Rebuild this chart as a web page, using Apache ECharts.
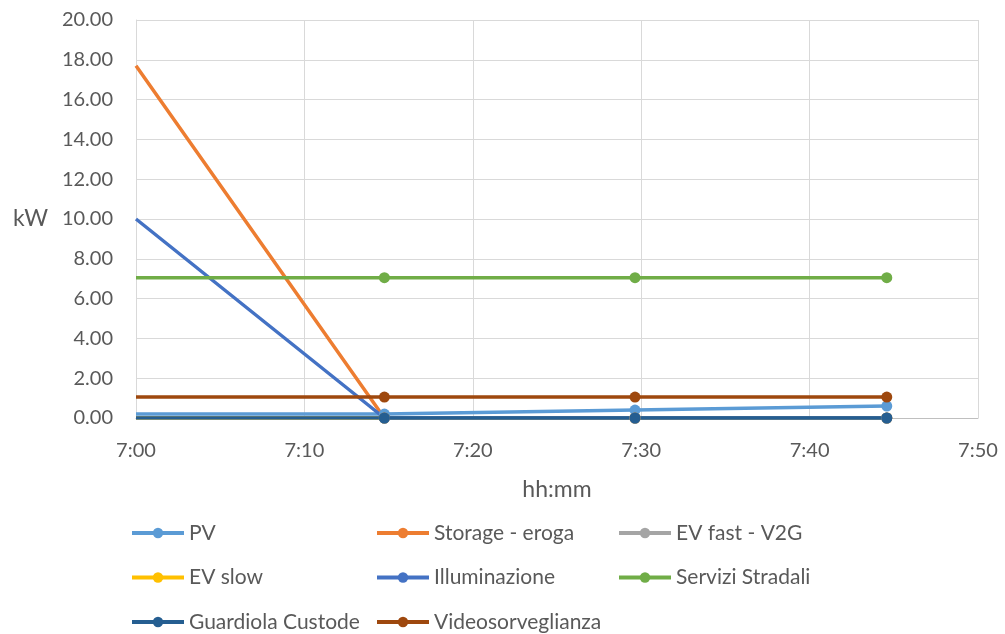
<!DOCTYPE html>
<html>
<head>
<meta charset="utf-8">
<script src="https://cdn.jsdelivr.net/npm/echarts@6/dist/echarts.min.js"></script>
<style>html,body{margin:0;padding:0;background:#fff}#c{width:1005px;height:634px}</style>
</head>
<body>
<div id="c"></div>
<script>
var times = ['7:00:00', '7:14:45', '7:29:38', '7:44:35'];
var pv = [0.2, 0.2, 0.4, 0.6];
var storageEroga = [17.7, 0, 0, 0];
var evFastV2G = [0, 0, 0, 0];
var evSlow = [0, 0, 0, 0];
var illuminazione = [10.0, 0, 0, 0];
var serviziStradali = [7.05, 7.05, 7.05, 7.05];
var guardiolaCustode = [0, 0, 0, 0];
var videosorveglianza = [1.05, 1.05, 1.05, 1.05];
var xTicks = ['7:00', '7:10', '7:20', '7:30', '7:40', '7:50'];

function toMin(t) {
  var p = t.split(':').map(Number);
  return (p[0] - 7) * 60 + p[1] + (p[2] || 0) / 60;
}
var xs = times.map(toMin);
var FONT = 'Lato';
var TXT = '#595959';

function mk(name, vals, color) {
  return {
    name: name, type: 'line', color: color,
    data: vals.map(function (v, i) {
      var d = {value: [xs[i], v]};
      if (i === 0) d.symbolSize = 0;
      return d;
    }),
    symbol: 'circle', symbolSize: 11,
    lineStyle: {width: 3.5, color: color},
    itemStyle: {color: color},
    emphasis: {disabled: true},
    animation: false
  };
}

var series = [
  mk('PV', pv, '#5B9BD5'),
  mk('Storage - eroga', storageEroga, '#ED7D31'),
  mk('EV fast - V2G', evFastV2G, '#A5A5A5'),
  mk('EV slow', evSlow, '#FFC000'),
  mk('Illuminazione', illuminazione, '#4472C4'),
  mk('Servizi Stradali', serviziStradali, '#70AD47'),
  mk('Guardiola Custode', guardiolaCustode, '#255E91'),
  mk('Videosorveglianza', videosorveglianza, '#9E480E')
];

function lg(left, names) {
  return {
    orient: 'vertical', left: left, top: 516, height: 200, itemGap: 20.5,
    itemWidth: 52, itemHeight: 13,
    data: names, selectedMode: false,
    lineStyle: {width: 4},
    textStyle: {fontFamily: FONT, fontSize: 21, lineHeight: 24, color: TXT}
  };
}

var chart = echarts.init(document.getElementById('c'), null, {renderer: 'canvas'});
chart.setOption({
  backgroundColor: '#fff',
  animation: false,
  grid: {left: 136, right: 27, top: 20, bottom: 216, containLabel: false},
  legend: [
    lg(125, ['PV', 'EV slow', 'Guardiola Custode']),
    lg(370, ['Storage - eroga', 'Illuminazione', 'Videosorveglianza']),
    lg(612, ['EV fast - V2G', 'Servizi Stradali'])
  ],
  xAxis: {
    type: 'value', min: 0, max: 50, interval: 10,
    name: 'hh:mm', nameLocation: 'middle', nameGap: 60,
    nameTextStyle: {fontFamily: FONT, fontSize: 23, color: TXT},
    axisLine: {show: true, lineStyle: {color: '#BFBFBF', width: 1}},
    axisTick: {show: false},
    axisLabel: {fontFamily: FONT, fontSize: 20, color: TXT, margin: 23,
      formatter: function (v) { return xTicks[Math.round(v / 10)]; }},
    splitLine: {show: true, lineStyle: {color: '#D9D9D9', width: 1}}
  },
  yAxis: {
    type: 'value', min: 0, max: 20, interval: 2,
    name: 'kW', nameLocation: 'middle', nameRotate: 0, nameGap: 88,
    nameTextStyle: {fontFamily: FONT, fontSize: 23, color: TXT},
    axisLine: {show: true, lineStyle: {color: '#D9D9D9', width: 1}},
    axisTick: {show: false},
    axisLabel: {fontFamily: FONT, fontSize: 20, color: TXT, margin: 23,
      formatter: function (v) { return v.toFixed(2); }},
    splitLine: {show: true, lineStyle: {color: '#D9D9D9', width: 1}}
  },
  series: series
});
</script>
</body>
</html>
